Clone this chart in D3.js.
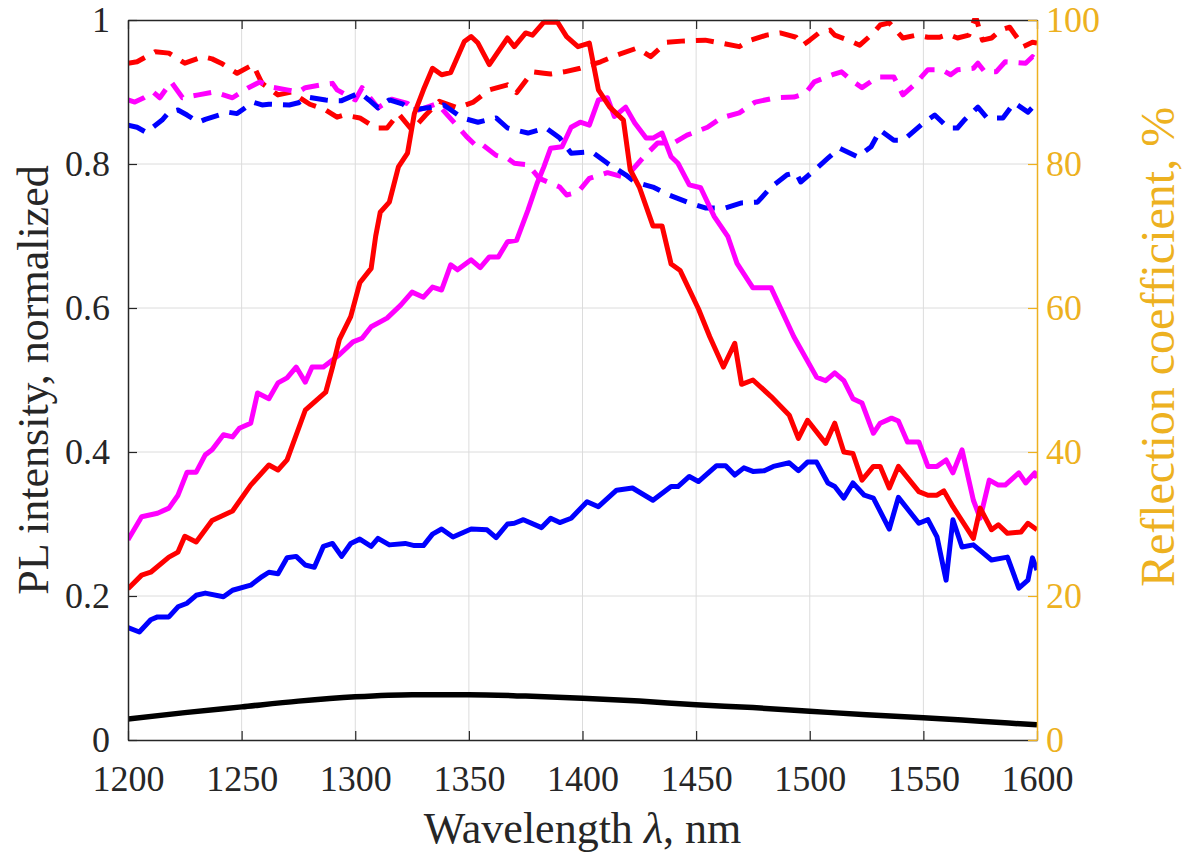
<!DOCTYPE html>
<html>
<head>
<meta charset="utf-8">
<script src="https://cdn.jsdelivr.net/npm/d3@7"></script>
<style>
  body { margin: 0; background: #fff; }
  svg { display: block; }
  text { font-family: "Liberation Serif", "Times New Roman", serif; }
</style>
</head>
<body>
<svg width="1189" height="854"></svg>
<script>
(() => {

    var width = 1189;
    var height = 854;
    var margin = { top: 20, right: 152, bottom: 114, left: 128 };
    var gold = "#EDB120";
    var ink = "#262626";

    // ---- tick labels ----
    var xTicks = [1200, 1250, 1300, 1350, 1400, 1450, 1500, 1550, 1600];
    var yLeftTicks = [0, 0.2, 0.4, 0.6, 0.8, 1];
    var yRightTicks = [0, 20, 40, 60, 80, 100];

    // ---- PL intensity (left axis), solid ----
    var plRedWl = [1200, 1206, 1210, 1218, 1222, 1225, 1230, 1237, 1246, 1254, 1262, 1266, 1270, 1278, 1283, 1287, 1290, 1293, 1298, 1302, 1307, 1309, 1311, 1315, 1319, 1323, 1326, 1330, 1334, 1338, 1342, 1348, 1351, 1354, 1359, 1367, 1370, 1375, 1378, 1383, 1389, 1393, 1398, 1403, 1407, 1412, 1418, 1421, 1425, 1431, 1435, 1439, 1443, 1451, 1456, 1462, 1467, 1470, 1475, 1483, 1491, 1495, 1499, 1507, 1511, 1515, 1519, 1523, 1528, 1531, 1535, 1539, 1548, 1552, 1556, 1559, 1563, 1572, 1575, 1580, 1583, 1587, 1593, 1596, 1600];
    var plRed = [0.21, 0.229, 0.233, 0.254, 0.261, 0.283, 0.275, 0.305, 0.318, 0.354, 0.382, 0.375, 0.389, 0.458, 0.472, 0.483, 0.518, 0.556, 0.588, 0.635, 0.655, 0.70, 0.733, 0.747, 0.796, 0.815, 0.87, 0.903, 0.933, 0.924, 0.927, 0.97, 0.977, 0.968, 0.938, 0.975, 0.963, 0.982, 0.979, 0.997, 0.997, 0.977, 0.963, 0.968, 0.903, 0.879, 0.861, 0.792, 0.768, 0.714, 0.714, 0.661, 0.652, 0.599, 0.56, 0.518, 0.551, 0.494, 0.5, 0.477, 0.451, 0.419, 0.444, 0.412, 0.44, 0.4, 0.398, 0.361, 0.38, 0.38, 0.35, 0.38, 0.345, 0.34, 0.34, 0.346, 0.324, 0.28, 0.322, 0.292, 0.299, 0.287, 0.289, 0.301, 0.292];

    var plMagentaWl = [1200, 1206, 1213, 1218, 1222, 1226, 1230, 1234, 1237, 1242, 1246, 1249, 1254, 1257, 1262, 1266, 1270, 1274, 1278, 1281, 1286, 1293, 1299, 1303, 1307, 1314, 1320, 1325, 1330, 1334, 1338, 1342, 1345, 1351, 1355, 1359, 1363, 1367, 1371, 1376, 1380, 1383, 1386, 1391, 1395, 1399, 1403, 1407, 1411, 1414, 1419, 1423, 1428, 1431, 1435, 1439, 1442, 1447, 1452, 1458, 1464, 1468, 1475, 1483, 1493, 1503, 1507, 1511, 1515, 1519, 1523, 1528, 1531, 1536, 1539, 1543, 1548, 1552, 1556, 1560, 1563, 1567, 1572, 1575, 1579, 1583, 1586, 1592, 1595, 1599, 1600];
    var plMagenta = [0.278, 0.31, 0.315, 0.322, 0.34, 0.372, 0.372, 0.396, 0.403, 0.424, 0.421, 0.433, 0.44, 0.482, 0.474, 0.496, 0.503, 0.518, 0.497, 0.518, 0.518, 0.535, 0.553, 0.558, 0.574, 0.586, 0.604, 0.622, 0.615, 0.629, 0.625, 0.66, 0.653, 0.667, 0.656, 0.671, 0.671, 0.692, 0.694, 0.736, 0.773, 0.796, 0.822, 0.824, 0.851, 0.858, 0.854, 0.889, 0.892, 0.866, 0.879, 0.857, 0.836, 0.836, 0.843, 0.81, 0.801, 0.771, 0.767, 0.727, 0.699, 0.662, 0.628, 0.628, 0.56, 0.504, 0.499, 0.51, 0.499, 0.474, 0.468, 0.426, 0.44, 0.447, 0.443, 0.414, 0.414, 0.38, 0.38, 0.389, 0.371, 0.403, 0.333, 0.308, 0.361, 0.354, 0.354, 0.371, 0.357, 0.371, 0.364];

    var plBlueWl = [1200, 1205, 1210, 1213, 1218, 1222, 1226, 1230, 1234, 1242, 1246, 1254, 1259, 1262, 1266, 1270, 1274, 1278, 1282, 1286, 1290, 1294, 1298, 1302, 1307, 1310, 1315, 1322, 1326, 1330, 1334, 1338, 1343, 1351, 1358, 1362, 1367, 1370, 1374, 1382, 1386, 1390, 1395, 1402, 1407, 1415, 1422, 1431, 1439, 1442, 1447, 1451, 1459, 1463, 1467, 1471, 1475, 1480, 1484, 1491, 1495, 1499, 1503, 1508, 1511, 1515, 1519, 1524, 1528, 1535, 1539, 1548, 1552, 1556, 1560, 1563, 1567, 1572, 1580, 1587, 1592, 1596, 1598, 1600];
    var plBlue = [0.156, 0.15, 0.167, 0.171, 0.171, 0.185, 0.19, 0.201, 0.204, 0.199, 0.208, 0.215, 0.227, 0.233, 0.231, 0.253, 0.255, 0.243, 0.24, 0.269, 0.273, 0.255, 0.273, 0.279, 0.269, 0.28, 0.271, 0.273, 0.27, 0.27, 0.286, 0.293, 0.282, 0.293, 0.292, 0.281, 0.3, 0.301, 0.306, 0.295, 0.308, 0.302, 0.308, 0.331, 0.324, 0.347, 0.35, 0.333, 0.352, 0.352, 0.366, 0.359, 0.381, 0.381, 0.368, 0.378, 0.373, 0.374, 0.38, 0.385, 0.374, 0.386, 0.386, 0.357, 0.352, 0.336, 0.357, 0.34, 0.336, 0.293, 0.337, 0.301, 0.306, 0.282, 0.222, 0.306, 0.268, 0.271, 0.25, 0.254, 0.211, 0.222, 0.253, 0.236];

    var plBlackWl = [1200, 1225, 1250, 1275, 1300, 1325, 1350, 1375, 1400, 1425, 1450, 1475, 1500, 1525, 1550, 1575, 1600];
    var plBlack = [0.029, 0.038, 0.046, 0.054, 0.06, 0.063, 0.063, 0.061, 0.058, 0.054, 0.049, 0.045, 0.04, 0.035, 0.031, 0.026, 0.021];

    // ---- reflection coefficient, % (right axis), dashed ----
    var rRedWl = [1200, 1204, 1212, 1218, 1225, 1233, 1237, 1241, 1248, 1255, 1259, 1266, 1272, 1277, 1280, 1287, 1292, 1295, 1302, 1309, 1314, 1319, 1325, 1331, 1337, 1345, 1352, 1359, 1367, 1371, 1378, 1383, 1386, 1392, 1399, 1408, 1415, 1424, 1430, 1437, 1445, 1454, 1461, 1469, 1474, 1481, 1487, 1494, 1497, 1500, 1504, 1509, 1511, 1517, 1522, 1528, 1531, 1535, 1541, 1547, 1552, 1557, 1561, 1565, 1570, 1573, 1576, 1580, 1584, 1588, 1594, 1598, 1600];
    var rRed = [94.0, 94.2, 95.6, 95.4, 94, 94.9, 94.6, 94, 92.6, 93.8, 91.2, 89.6, 90, 88.9, 88.3, 87.5, 86.5, 86.8, 86.4, 85, 85, 87, 84.7, 86.8, 88.7, 87.8, 88.6, 90.3, 91, 89.9, 92.8, 92.6, 92.5, 92.8, 93.3, 94.2, 95.1, 96.1, 94.9, 96.9, 97.1, 97.2, 96.8, 96.3, 97.2, 97.9, 98.2, 97.6, 96.5, 97.2, 98.2, 98.6, 97.9, 97.2, 96.5, 98.2, 99.3, 99.6, 97.5, 97.9, 97.6, 97.6, 98, 97.5, 97.9, 100.5, 97.2, 97.5, 98.6, 99, 96.3, 96.9, 96.8];

    var rMagentaWl = [1200, 1203, 1207, 1211, 1214, 1219, 1224, 1231, 1238, 1246, 1253, 1258, 1263, 1270, 1275, 1278, 1285, 1290, 1292, 1300, 1303, 1310, 1316, 1323, 1327, 1336, 1340, 1344, 1349, 1353, 1355, 1362, 1367, 1370, 1376, 1381, 1390, 1393, 1398, 1403, 1411, 1418, 1422, 1427, 1433, 1440, 1446, 1455, 1461, 1469, 1476, 1485, 1493, 1498, 1502, 1510, 1514, 1518, 1523, 1530, 1537, 1541, 1546, 1552, 1558, 1562, 1565, 1572, 1574, 1577, 1582, 1586, 1595, 1598, 1600];
    var rMagenta = [88.9, 88.6, 89.2, 90, 89.2, 91.4, 89.2, 89.6, 90, 89.2, 90.6, 91.4, 90.7, 90.3, 90, 90.6, 91, 91.2, 90.3, 88.9, 90.6, 87.8, 89, 88.4, 87.4, 88.4, 87, 85.6, 83.8, 82.6, 82.9, 81.2, 80.8, 80.1, 79.9, 78, 76.8, 75.7, 76.1, 78, 78.8, 78.2, 79.2, 81, 82.9, 82.9, 84, 85.1, 86.4, 87.1, 88.6, 89.2, 89.3, 89.8, 91.4, 92.4, 92.8, 91.7, 90.6, 92.1, 92.1, 89.6, 91, 93.1, 93.1, 92.4, 93.1, 93.3, 94, 92.8, 92.8, 94.2, 94, 94.9, 94.4];

    var rBlueWl = [1200, 1204, 1208, 1215, 1218, 1222, 1226, 1231, 1234, 1240, 1244, 1248, 1255, 1259, 1262, 1271, 1275, 1279, 1287, 1290, 1294, 1302, 1306, 1310, 1315, 1321, 1325, 1332, 1339, 1347, 1354, 1362, 1367, 1376, 1384, 1390, 1395, 1404, 1411, 1419, 1423, 1431, 1438, 1447, 1454, 1463, 1470, 1477, 1483, 1490, 1494, 1496, 1503, 1508, 1513, 1521, 1527, 1531, 1537, 1541, 1543, 1550, 1555, 1561, 1565, 1568, 1574, 1578, 1585, 1590, 1596, 1600];
    var rBlue = [85.4, 85.1, 84.4, 86.1, 87.2, 87.5, 86.8, 85.8, 86.2, 86.8, 87.2, 87, 88.6, 88.2, 88.3, 88.2, 88.5, 89.3, 88.9, 88.8, 88.8, 89.9, 88.9, 87.8, 88.9, 88.3, 87.5, 87.8, 88.2, 86.4, 85.8, 86.4, 85, 84.3, 85, 83.6, 81.5, 81.7, 80.1, 78.5, 77.5, 76.8, 75.7, 74.6, 73.9, 73.9, 74.6, 74.7, 76.8, 78.5, 78.8, 77.5, 79.4, 80.8, 82.2, 81, 82.4, 84.7, 83.3, 83.3, 83.8, 85.7, 86.8, 85, 85, 86.1, 87.9, 86.4, 86.4, 88.5, 87.2, 88.5];

    var svg = d3.select("svg");

    var x = d3.scaleLinear().domain([1200, 1600]).range([margin.left, width - margin.right]);
    var yL = d3.scaleLinear().domain([0, 1]).range([height - margin.bottom, margin.top]);
    var yR = d3.scaleLinear().domain([0, 100]).range([height - margin.bottom, margin.top]);

    var x0 = margin.left, x1 = width - margin.right;
    var y0 = height - margin.bottom, y1 = margin.top;

    svg.append("rect").attr("width", width).attr("height", height).attr("fill", "#fff");

    // grid
    var grid = svg.append("g").attr("stroke", "#dcdcdc").attr("stroke-width", 1);
    grid.selectAll(".gx").data(xTicks.slice(1, -1)).enter().append("line")
        .attr("x1", d => x(d)).attr("x2", d => x(d))
        .attr("y1", y1).attr("y2", y0);
    grid.selectAll(".gy").data(yLeftTicks.slice(1, -1)).enter().append("line")
        .attr("x1", x0).attr("x2", x1)
        .attr("y1", d => yL(d)).attr("y2", d => yL(d));

    svg.append("clipPath").attr("id", "plot")
        .append("rect").attr("x", x0).attr("y", y1 - 2).attr("width", x1 - x0).attr("height", y0 - y1 + 2);

    var zip = (a, b) => a.map((w, i) => [w, b[i]]);

    var lineL = d3.line().x(d => x(d[0])).y(d => yL(d[1]));
    var lineR = d3.line().x(d => x(d[0])).y(d => yR(d[1]));
    var lineSmooth = d3.line().x(d => x(d[0])).y(d => yL(d[1])).curve(d3.curveMonotoneX);

    var plot = svg.append("g").attr("clip-path", "url(#plot)")
        .attr("fill", "none").attr("stroke-linejoin", "round").attr("stroke-linecap", "butt");

    // reflection curves (dashed)
    [[rRedWl, rRed, "#ff0000"], [rMagentaWl, rMagenta, "#ff00ff"], [rBlueWl, rBlue, "#0000ff"]]
        .forEach(s => {
            plot.append("path")
                .attr("d", lineR(zip(s[0], s[1])))
                .attr("stroke", s[2])
                .attr("stroke-width", 5)
                .attr("stroke-dasharray", "18,11");
        });

    // PL curves (solid)
    plot.append("path").attr("d", lineSmooth(zip(plBlackWl, plBlack)))
        .attr("stroke", "#000").attr("stroke-width", 5.5);
    [[plBlueWl, plBlue, "#0000ff"], [plMagentaWl, plMagenta, "#ff00ff"], [plRedWl, plRed, "#ff0000"]]
        .forEach(s => {
            plot.append("path")
                .attr("d", lineL(zip(s[0], s[1])))
                .attr("stroke", s[2])
                .attr("stroke-width", 5);
        });

    // axes
    var serif = "'Liberation Serif', 'Times New Roman', serif";

    var gx = svg.append("g")
        .attr("transform", "translate(0," + y0 + ")")
        .call(d3.axisBottom(x).tickValues(xTicks).tickSize(-9).tickPadding(25).tickSizeOuter(0)
            .tickFormat(d3.format("d")));

    var gt = svg.append("g")
        .attr("transform", "translate(0," + y1 + ")")
        .call(d3.axisTop(x).tickValues(xTicks).tickSize(-9).tickSizeOuter(0).tickFormat(""));

    var gl = svg.append("g")
        .attr("transform", "translate(" + x0 + ",0)")
        .call(d3.axisLeft(yL).tickValues(yLeftTicks).tickSize(-9).tickPadding(18).tickSizeOuter(0)
            .tickFormat(d => d === 0 || d === 1 ? String(d) : d.toFixed(1)));

    var gr = svg.append("g")
        .attr("transform", "translate(" + x1 + ",0)")
        .call(d3.axisRight(yR).tickValues(yRightTicks).tickSize(-9).tickPadding(9).tickSizeOuter(0));

    [gx, gt, gl].forEach(g => {
        g.attr("font-family", serif).attr("font-size", 36);
        g.select(".domain").attr("stroke", ink).attr("stroke-width", 1.5);
        g.selectAll(".tick line").attr("stroke", ink).attr("stroke-width", 1.2);
        g.selectAll(".tick text").attr("fill", ink);
    });
    gr.attr("font-family", serif).attr("font-size", 36);
    gr.select(".domain").attr("stroke", gold).attr("stroke-width", 1.5);
    gr.selectAll(".tick line").attr("stroke", gold).attr("stroke-width", 1.2);
    gr.selectAll(".tick text").attr("fill", gold);

    // axis labels
    var xl = svg.append("text")
        .attr("x", (x0 + x1) / 2).attr("y", 843)
        .attr("text-anchor", "middle")
        .attr("fill", ink)
        .style("font-size", "44px");
    xl.append("tspan").text("Wavelength ");
    xl.append("tspan").style("font-style", "italic").text("λ");
    xl.append("tspan").text(", nm");

    svg.append("text")
        .attr("transform", "translate(48," + ((y0 + y1) / 2) + ") rotate(-90)")
        .attr("text-anchor", "middle")
        .attr("fill", ink)
        .style("font-size", "44px")
        .text("PL intensity, normalized");

    svg.append("text")
        .attr("transform", "translate(1174,347) rotate(-90)")
        .attr("text-anchor", "middle")
        .attr("fill", gold)
        .style("font-size", "48px")
        .text("Reflection coefficient, %");

})();
</script>
</body>
</html>
